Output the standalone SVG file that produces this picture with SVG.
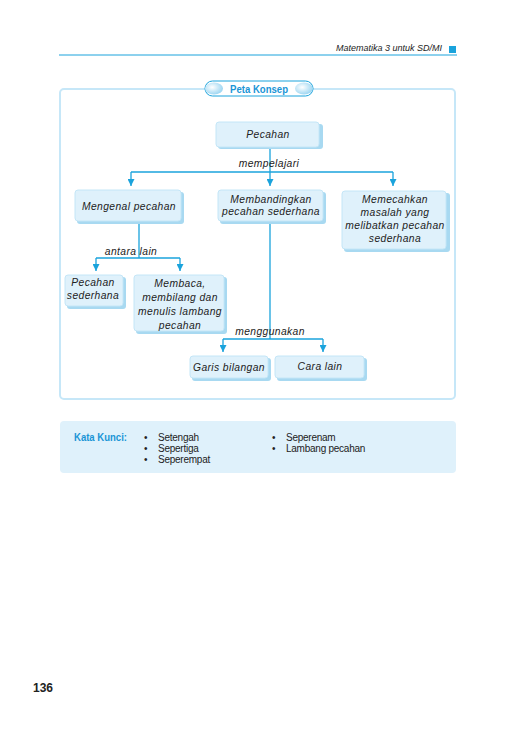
<svg xmlns="http://www.w3.org/2000/svg" width="516" height="729" viewBox="0 0 516 729">
  <defs>
    <marker id="arr" viewBox="0 0 8 8" refX="8" refY="4" markerWidth="7" markerHeight="7" markerUnits="userSpaceOnUse" orient="auto">
      <path d="M0,0 L8,4 L0,8 Z" fill="#1aa3dc"/>
    </marker>
    <radialGradient id="bubble" cx="0.4" cy="0.4" r="0.7">
      <stop offset="0" stop-color="#ffffff"/>
      <stop offset="1" stop-color="#8fd0f0"/>
    </radialGradient>
  </defs>
  <style>
    .shadow { fill: #a8d9f1; }
    .box { fill: #dff1fb; stroke: #c4e6f7; stroke-width: 1; }
    .lbl { font-family: "Liberation Sans", Arial, sans-serif; font-style: italic; font-size: 10.3px; letter-spacing: 0.4px; fill: #222; text-anchor: middle; }
    .conn { fill: none; stroke: #1aa3dc; stroke-width: 1.3; }
    .key { font-family: "Liberation Sans", Arial, sans-serif; font-size: 10px; fill: #222; letter-spacing: -0.25px; }
    .title { font-family: "Liberation Sans", Arial, sans-serif; font-weight: bold; fill: #1a95d6; }
  </style>

  <!-- running header -->
  <g id="header">
    <text x="442" y="51" font-family="Liberation Sans, Arial, sans-serif" font-style="italic" font-size="9" fill="#222" text-anchor="end">Matematika 3 untuk SD/MI</text>
    <rect x="449" y="46" width="7" height="7" fill="#1aa3dc"/>
    <line x1="59" y1="55" x2="457" y2="55" stroke="#1aa3dc" stroke-width="1"/>
  </g>

  <!-- concept map frame -->
  <g id="frame">
    <rect x="60" y="89" width="395" height="310" rx="4" fill="none" stroke="#c6e7f8" stroke-width="2"/>
  </g>

  <!-- title banner -->
  <g id="banner">
    <rect x="205" y="81" width="108" height="15" rx="7.5" fill="#ffffff" stroke="#1aa3dc" stroke-width="1"/>
    <ellipse cx="214" cy="88.5" rx="9" ry="6" fill="url(#bubble)"/>
    <ellipse cx="304" cy="88.5" rx="9" ry="6" fill="url(#bubble)"/>
    <text class="title" x="259" y="93" font-size="11.5" text-anchor="middle" textLength="58" lengthAdjust="spacingAndGlyphs">Peta Konsep</text>
  </g>

  <!-- connectors -->
  <g id="connectors">
    <path class="conn" d="M270,148 V172"/>
    <path class="conn" d="M131,172 H393"/>
    <path class="conn" d="M131,172 V186" marker-end="url(#arr)"/>
    <path class="conn" d="M270,172 V186" marker-end="url(#arr)"/>
    <path class="conn" d="M393,172 V186" marker-end="url(#arr)"/>

    <path class="conn" d="M139,222 V258"/>
    <path class="conn" d="M96,258 H180"/>
    <path class="conn" d="M96,258 V271" marker-end="url(#arr)"/>
    <path class="conn" d="M180,258 V271" marker-end="url(#arr)"/>

    <path class="conn" d="M270,222 V339"/>
    <path class="conn" d="M223,339 H323"/>
    <path class="conn" d="M223,339 V352" marker-end="url(#arr)"/>
    <path class="conn" d="M323,339 V352" marker-end="url(#arr)"/>

    <text class="lbl" x="269" y="167">mempelajari</text>
    <text class="lbl" x="131" y="255">antara lain</text>
    <text class="lbl" x="270" y="335">menggunakan</text>
  </g>

  <!-- nodes -->
  <g id="n-pecahan">
    <rect class="shadow" x="218" y="124" width="105" height="25" rx="3"/>
    <rect class="box" x="216" y="122" width="103" height="25" rx="3"/>
    <text class="lbl" x="268" y="138">Pecahan</text>
  </g>

  <g id="n-mengenal">
    <rect class="shadow" x="77" y="192" width="107" height="32" rx="3"/>
    <rect class="box" x="75" y="190" width="106" height="31" rx="3"/>
    <text class="lbl" x="129" y="210">Mengenal pecahan</text>
  </g>

  <g id="n-membandingkan">
    <rect class="shadow" x="220" y="192" width="106" height="32" rx="3"/>
    <rect class="box" x="218" y="190" width="105" height="31" rx="3"/>
    <text class="lbl" x="271" y="203">Membandingkan</text>
    <text class="lbl" x="271" y="215">pecahan sederhana</text>
  </g>

  <g id="n-memecahkan">
    <rect class="shadow" x="344" y="193" width="106" height="59" rx="3"/>
    <rect class="box" x="342" y="191" width="104" height="58" rx="3"/>
    <text class="lbl" x="395" y="203">Memecahkan</text>
    <text class="lbl" x="395" y="216">masalah yang</text>
    <text class="lbl" x="395" y="229">melibatkan pecahan</text>
    <text class="lbl" x="395" y="242">sederhana</text>
  </g>

  <g id="n-sederhana">
    <rect class="shadow" x="67" y="277" width="59" height="32" rx="3"/>
    <rect class="box" x="65" y="275" width="58" height="31" rx="3"/>
    <text class="lbl" x="93" y="286">Pecahan</text>
    <text class="lbl" x="93" y="299">sederhana</text>
  </g>

  <g id="n-membaca">
    <rect class="shadow" x="136" y="277" width="91" height="57" rx="3"/>
    <rect class="box" x="134" y="275" width="90" height="56" rx="3"/>
    <text class="lbl" x="180" y="287">Membaca,</text>
    <text class="lbl" x="180" y="301">membilang dan</text>
    <text class="lbl" x="180" y="315">menulis lambang</text>
    <text class="lbl" x="180" y="329">pecahan</text>
  </g>

  <g id="n-garis">
    <rect class="shadow" x="192" y="358" width="79" height="23" rx="3"/>
    <rect class="box" x="190" y="356" width="78" height="22" rx="3"/>
    <text class="lbl" x="229" y="371">Garis bilangan</text>
  </g>

  <g id="n-cara">
    <rect class="shadow" x="277" y="358" width="90" height="23" rx="3"/>
    <rect class="box" x="275" y="356" width="89" height="22" rx="3"/>
    <text class="lbl" x="320" y="370">Cara lain</text>
  </g>

  <!-- key words panel -->
  <g id="kata-kunci">
    <rect x="60" y="421" width="396" height="52" rx="4" fill="#dff1fb"/>
    <text class="title" x="74" y="441" font-size="11.5" textLength="53" lengthAdjust="spacingAndGlyphs">Kata Kunci:</text>
    <g class="key">
      <text x="144" y="441">•</text>
      <text x="158" y="441">Setengah</text>
      <text x="144" y="452">•</text>
      <text x="158" y="452">Sepertiga</text>
      <text x="144" y="463">•</text>
      <text x="158" y="463">Seperempat</text>
      <text x="272" y="441">•</text>
      <text x="286" y="441">Seperenam</text>
      <text x="272" y="452">•</text>
      <text x="286" y="452">Lambang pecahan</text>
    </g>
  </g>

  <!-- page number -->
  <text x="33" y="692" font-family="Liberation Sans, Arial, sans-serif" font-weight="bold" font-size="12" fill="#222">136</text>
</svg>
